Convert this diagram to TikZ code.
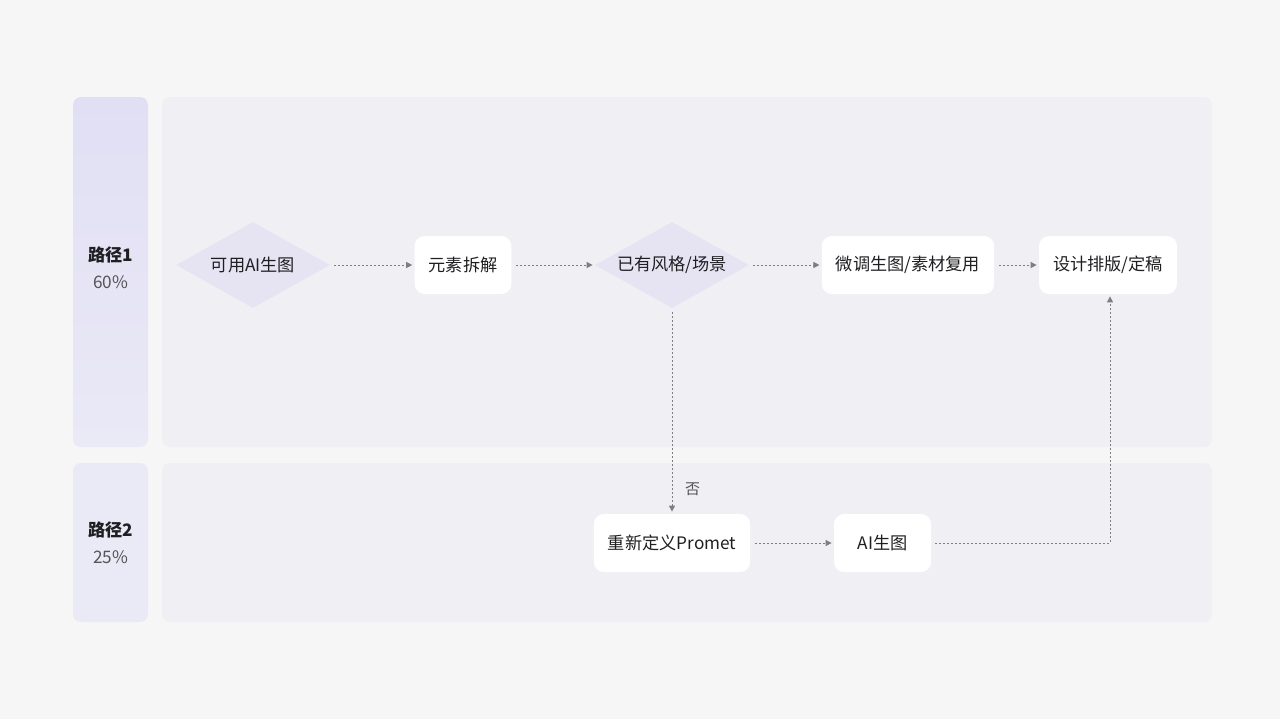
\documentclass[tikz,border=0pt]{standalone}
\usepackage{fontspec}
\setmainfont{Noto Sans CJK SC}
\usetikzlibrary{positioning, shapes.geometric, arrows.meta}

\definecolor{pagebg}{HTML}{F6F6F7}
\definecolor{lanebg}{HTML}{F0EFF4}
\definecolor{labtop}{HTML}{E1DFF4}
\definecolor{labbot}{HTML}{EAE9F6}
\definecolor{diafill}{HTML}{E6E4F3}
\definecolor{inkcol}{HTML}{1F1F22}
\definecolor{subcol}{HTML}{555558}
\definecolor{flowcol}{HTML}{7E7E82}

\begin{document}
\begin{tikzpicture}[
  x=0.5pt, y=-0.5pt,
  font=\fontsize{8.6}{13.5}\selectfont, text=inkcol,
  lanelab/.style={
    top color=#1, bottom color=labbot, rounded corners=4pt,
    minimum width=37.5pt, inner sep=0pt
  },
  lanebody/.style={
    fill=lanebg, rounded corners=4pt,
    minimum width=525pt, inner sep=0pt
  },
  procbox/.style={
    fill=white, rounded corners=5pt,
    minimum height=29pt, inner xsep=7pt, inner ysep=0pt
  },
  decision/.style={
    diamond, fill=diafill, aspect=1.8, inner sep=0pt,
    minimum width=77pt, minimum height=43pt
  },
  flow/.style={
    draw=flowcol, line width=0.5pt, dash pattern=on 1pt off 1pt,
    -{Triangle[length=3pt,width=3pt]},
    shorten <=2pt, shorten >=1pt
  }
]

% ── Page ─────────────────────────────────────────────────────────────────────
\fill[pagebg] (0,0) rectangle (1280,719);
\useasboundingbox (0,0) rectangle (1280,719);

% ── Lanes ────────────────────────────────────────────────────────────────────
\node[lanelab=labtop, minimum height=175pt] (lane1lab) at (110.5,272) {};
\node[lanebody, minimum height=175pt] (lane1) at (687,272) {};
\node[lanelab=labbot, minimum height=79.5pt] (lane2lab) at (110.5,542.5) {};
\node[lanebody, minimum height=79.5pt] (lane2) at (687,542.5) {};

\node[align=center] (path1) at (110.5,267.5)
  {\textbf{路径1}\\{\color{subcol}60\%}};
\node[align=center] (path2) at (110.5,542.5)
  {\textbf{路径2}\\{\color{subcol}25\%}};

% ── Path 1 ───────────────────────────────────────────────────────────────────
\node[decision] (canai) at (253,265) {可用AI生图};
\node[procbox] (split) at (463,265) {元素拆解};
\node[decision] (hasstyle) at (672,265) {已有风格/场景};
\node[procbox] (tune) at (908,265) {微调生图/素材复用};
\node[procbox] (layout) at (1108,265) {设计排版/定稿};

% ── Path 2 ───────────────────────────────────────────────────────────────────
\node[procbox] (prompt) at (672,543) {重新定义Promet};
\node[procbox, minimum width=48.5pt] (aigen) at (882.5,543) {AI生图};

% ── Connectors ───────────────────────────────────────────────────────────────
\draw[flow] (canai) -- (split);
\draw[flow] (split) -- (hasstyle);
\draw[flow] (hasstyle) -- (tune);
\draw[flow] (tune) -- (layout);
\draw[flow] (hasstyle) -- node[pos=0.88, right=3pt, font=\fontsize{7.5}{9}\selectfont, text=subcol] (no) {否} (prompt);
\draw[flow] (prompt) -- (aigen);
\draw[flow] (aigen.east) -| ([xshift=1pt]layout.south);

\end{tikzpicture}
\end{document}
